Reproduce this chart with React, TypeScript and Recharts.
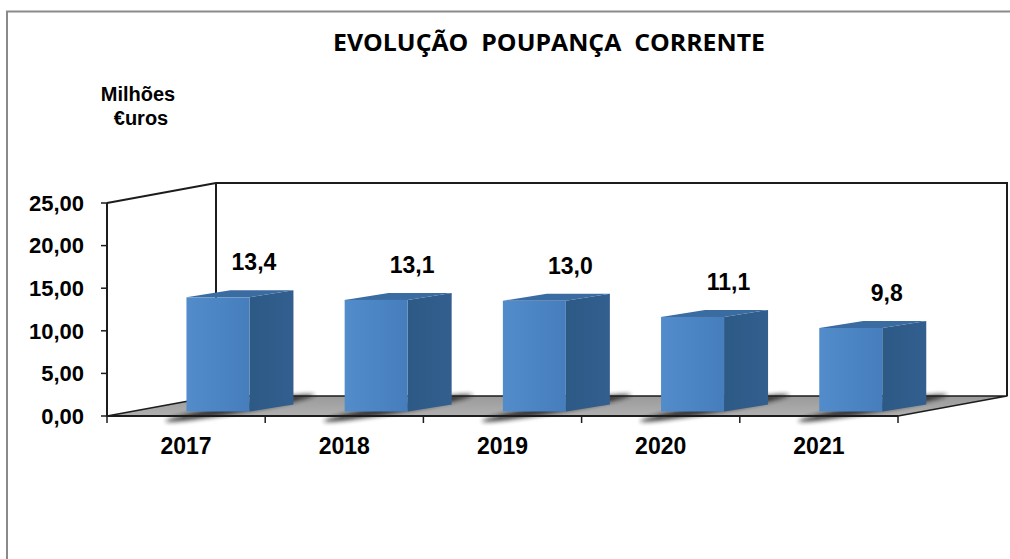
import { BarChart, Bar, XAxis, YAxis, LabelList } from "recharts"

const YEARS = ["2017", "2018", "2019", "2020", "2021"]
const VALUES = [13.4, 13.1, 13.0, 11.1, 9.8]
const Y_TICKS = [0, 5, 10, 15, 20, 25]

const data = YEARS.map((year, i) => ({ year, value: VALUES[i] }))

// front plane of the 3D box
const W = 1010
const H = 559
const PLOT_LEFT = 107
const PLOT_TOP = 203
const PLOT_RIGHT = 898
const PLOT_BOTTOM = 416
// depth of the box (back wall offset)
const DX = 109
const DY = -20
// bar placement inside the depth
const BAR_SHIFT_X = 32
const BAR_SHIFT_Y = -4.5
const BAR_DX = 44
const BAR_DY = -7

const HALF_BAND = (PLOT_RIGHT - PLOT_LEFT) / YEARS.length / 2
const LINE = "#1c1c1c"
const ARIAL = "'Liberation Sans', Arial, sans-serif"

const fmtTick = (v: number) => v.toFixed(2).replace(".", ",")
const fmtValue = (v: number) => v.toFixed(1).replace(".", ",")

function Bar3D(props: any) {
  const { x, y, width, height } = props
  const fx = x + BAR_SHIFT_X
  const fy = y + BAR_SHIFT_Y
  const bottom = fy + height
  const cx = fx + (width + BAR_DX) / 2
  const cy = bottom + BAR_DY / 2
  return (
    <g>
      <ellipse
        cx={cx}
        cy={cy}
        rx={(width + BAR_DX) / 2 + 22}
        ry={4.5}
        fill="#1a1a1a"
        opacity={0.8}
        filter="url(#shadowBlur)"
        transform={`rotate(-10 ${cx} ${cy})`}
      />
      {/* side */}
      <polygon
        points={`${fx + width},${fy} ${fx + width + BAR_DX},${fy + BAR_DY} ${fx + width + BAR_DX},${bottom + BAR_DY} ${fx + width},${bottom}`}
        fill="url(#sideGrad)"
      />
      {/* top */}
      <polygon
        points={`${fx},${fy} ${fx + width},${fy} ${fx + width + BAR_DX},${fy + BAR_DY} ${fx + BAR_DX},${fy + BAR_DY}`}
        fill="#3a6ca2"
      />
      {/* front */}
      <rect x={fx} y={fy} width={width} height={height} fill="url(#frontGrad)" />
    </g>
  )
}

function XTick(props: any) {
  const { x, payload, index } = props
  return (
    <g>
      <text
        x={x}
        y={PLOT_BOTTOM + 38}
        textAnchor="middle"
        fontFamily={ARIAL}
        fontWeight="bold"
        fontSize={23}
        fill="#000"
      >
        {payload.value}
      </text>
      {index === 0 && (
        <line x1={x - HALF_BAND} y1={PLOT_BOTTOM} x2={x - HALF_BAND} y2={PLOT_BOTTOM + 7} stroke={LINE} strokeWidth={1.5} />
      )}
      <line x1={x + HALF_BAND} y1={PLOT_BOTTOM} x2={x + HALF_BAND} y2={PLOT_BOTTOM + 7} stroke={LINE} strokeWidth={1.5} />
    </g>
  )
}

function ValueLabel(props: any) {
  const { x, y, width, value } = props
  return (
    <text
      x={x + BAR_SHIFT_X + width / 2 + 36}
      y={y - 31.5}
      textAnchor="middle"
      fontFamily={ARIAL}
      fontWeight="bold"
      fontSize={23}
      fill="#000"
    >
      {fmtValue(value)}
    </text>
  )
}

function Backdrop() {
  const bl = [PLOT_LEFT + DX, PLOT_BOTTOM + DY]
  const tl = [PLOT_LEFT + DX, PLOT_TOP + DY]
  const tr = [PLOT_RIGHT + DX, PLOT_TOP + DY]
  const br = [PLOT_RIGHT + DX, PLOT_BOTTOM + DY]
  return (
    <svg width={W} height={H} style={{ position: "absolute", left: 0, top: 0 }}>
      {/* frame */}
      <polyline points={`7,${H} 7,11.5 ${W},11.5`} fill="none" stroke="#8a8a8a" strokeWidth={2} />
      {/* title */}
      <text
        x={549}
        y={51}
        textAnchor="middle"
        fontFamily="'Open Sans', 'Liberation Sans', sans-serif"
        fontWeight="bold"
        fontSize={23}
        textLength={432}
        lengthAdjust="spacingAndGlyphs"
        style={{ whiteSpace: "pre" }}
      >
        {"EVOLUÇÃO  POUPANÇA  CORRENTE"}
      </text>
      <text x={138} y={101} textAnchor="middle" fontFamily={ARIAL} fontWeight="bold" fontSize={20}>
        Milhões
      </text>
      <text x={141} y={125} textAnchor="middle" fontFamily={ARIAL} fontWeight="bold" fontSize={20}>
        €uros
      </text>
      {/* walls */}
      <polygon points={`${PLOT_LEFT},${PLOT_TOP} ${tl} ${bl} ${PLOT_LEFT},${PLOT_BOTTOM}`} fill="#fff" />
      <polygon points={`${tl} ${tr} ${br} ${bl}`} fill="#fff" />
      <polyline
        points={`${PLOT_LEFT},${PLOT_TOP} ${tl} ${tr} ${br}`}
        fill="none"
        stroke={LINE}
        strokeWidth={2}
      />
      <line x1={tl[0]} y1={tl[1]} x2={bl[0]} y2={bl[1]} stroke={LINE} strokeWidth={2} />
      {/* floor */}
      <polygon
        points={`${PLOT_LEFT},${PLOT_BOTTOM} ${PLOT_RIGHT},${PLOT_BOTTOM} ${br} ${bl}`}
        fill="url(#floorGrad)"
        stroke={LINE}
        strokeWidth={1.5}
        strokeLinejoin="round"
      />
      <line x1={PLOT_LEFT} y1={PLOT_BOTTOM} x2={PLOT_RIGHT} y2={PLOT_BOTTOM} stroke={LINE} strokeWidth={2} />
      <defs>
        <linearGradient id="floorGrad" x1="0" y1="0" x2="0" y2="1">
          <stop offset="0%" stopColor="#9a9a9a" />
          <stop offset="100%" stopColor="#b0b0b0" />
        </linearGradient>
      </defs>
    </svg>
  )
}

export default function App() {
  return (
    <div style={{ position: "absolute", left: 0, top: 0, width: W, height: H, background: "#fff" }}>
      <Backdrop />
      <div style={{ position: "absolute", left: 0, top: 0 }}>
        <BarChart
          width={W}
          height={H}
          data={data}
          margin={{ top: PLOT_TOP, right: W - PLOT_RIGHT, bottom: H - PLOT_BOTTOM - 30, left: PLOT_LEFT - 60 }}
          barCategoryGap="30%"
        >
          <defs>
            <linearGradient id="frontGrad" x1="0" y1="0" x2="1" y2="0">
              <stop offset="0%" stopColor="#528cca" />
              <stop offset="100%" stopColor="#467ebd" />
            </linearGradient>
            <linearGradient id="sideGrad" x1="0" y1="0" x2="1" y2="0">
              <stop offset="0%" stopColor="#2d5985" />
              <stop offset="100%" stopColor="#325f8f" />
            </linearGradient>
            <filter id="shadowBlur" x="-20%" y="-200%" width="140%" height="500%">
              <feGaussianBlur stdDeviation="2" />
            </filter>
          </defs>
          <XAxis
            dataKey="year"
            height={30}
            axisLine={false}
            tickLine={false}
            tick={<XTick />}
            interval={0}
          />
          <YAxis
            width={60}
            domain={[0, 25]}
            ticks={Y_TICKS}
            tickFormatter={fmtTick}
            axisLine={{ stroke: LINE, strokeWidth: 2 }}
            tickLine={{ stroke: LINE, strokeWidth: 1.5 }}
            tickSize={6}
            tickMargin={17}
            tick={{ fill: "#000", fontFamily: ARIAL, fontWeight: "bold", fontSize: 22 }}
          />
          <Bar dataKey="value" shape={<Bar3D />} isAnimationActive={false}>
            <LabelList dataKey="value" content={<ValueLabel />} />
          </Bar>
        </BarChart>
      </div>
    </div>
  )
}
